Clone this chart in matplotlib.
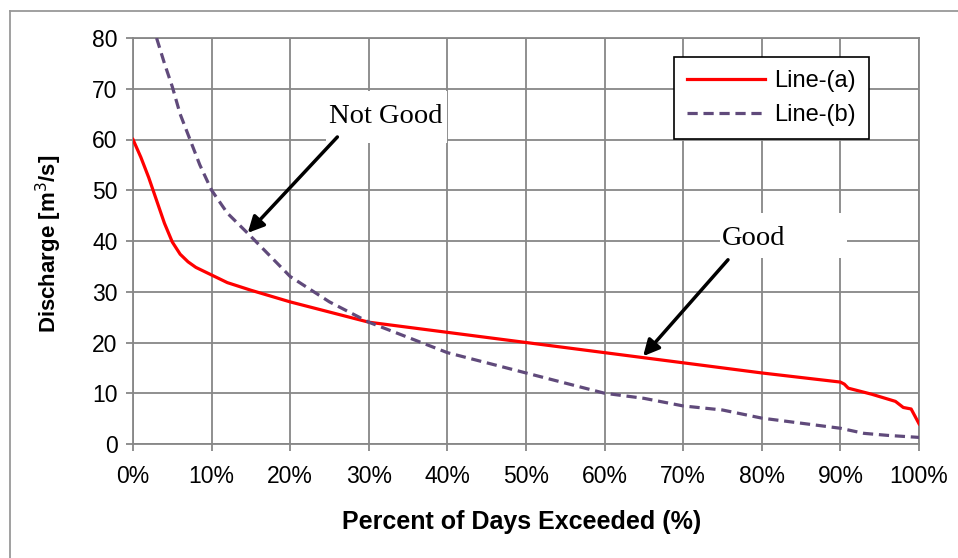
import matplotlib.pyplot as plt
from matplotlib.lines import Line2D
from matplotlib.patches import Rectangle
from matplotlib.ticker import PercentFormatter

# Flow duration curves: percent of days exceeded vs discharge
pct_a = [0, 1, 2, 3, 4, 5, 6, 7, 8, 10, 12, 15, 20, 25, 30, 35, 40, 45, 50,
         60, 70, 80, 90, 90.5, 91, 94, 97, 98, 99, 100]
flow_a = [60, 56.5, 52.5, 48, 43.5, 39.8, 37.4, 35.9, 34.8, 33.3, 31.8, 30.3, 28, 26,
          24, 23, 22, 21, 20, 18, 16, 14, 12.2, 11.8, 11.0, 9.8, 8.4, 7.2, 6.9, 4]

pct_b = [3, 4, 5, 6, 7.25, 8.5, 10, 12, 15, 20, 25, 30, 35, 40, 45, 50, 55,
         60, 65, 70, 75, 80, 85, 90, 93, 96, 100]
flow_b = [80, 75, 70.4, 65, 60, 55, 50, 45.5, 40.9, 33, 28, 24, 21, 18, 16,
          14, 12, 10, 9, 7.5, 6.7, 5.1, 4.1, 3.1, 2.1, 1.7, 1.3]

x_ticks = [0, 10, 20, 30, 40, 50, 60, 70, 80, 90, 100]
y_ticks = [0, 10, 20, 30, 40, 50, 60, 70, 80]

plt.rcParams['font.family'] = ['Liberation Sans', 'DejaVu Sans']

fig = plt.figure(figsize=(9.58, 5.58), dpi=100)
ax = fig.add_axes([133 / 958, 1 - 444 / 558, 786 / 958, 406 / 558])

grid_color = '#878787'
ax.plot(pct_a, flow_a, color='#FF0000', lw=2.3, label='Line-(a)', zorder=4)
ax.plot(pct_b, flow_b, color='#604A7B', lw=2.3, dashes=(3.2, 1.8),
        label='Line-(b)', zorder=4)

ax.set_xlim(0, 100)
ax.set_ylim(0, 80)
ax.set_xticks(x_ticks)
ax.set_yticks(y_ticks)
ax.xaxis.set_major_formatter(PercentFormatter(decimals=0))
ax.grid(True, color=grid_color, lw=1.3, zorder=0)
ax.set_axisbelow(True)
for s in ax.spines.values():
    s.set_color(grid_color)
    s.set_linewidth(1.3)
ax.tick_params(axis='both', colors=grid_color, length=5, width=1.3,
               labelcolor='black', labelsize=16.5)
ax.tick_params(axis='x', pad=10)
ax.tick_params(axis='y', pad=6)

ax.set_xlabel('Percent of Days Exceeded (%)', fontsize=18, fontweight='bold',
              va='center')
ax.set_ylabel('Discharge [m$^3$/s]', fontsize=16, fontweight='bold',
              va='center')
ax.xaxis.set_label_coords(0.494, -0.192)
ax.yaxis.set_label_coords(-0.107, 0.493)

# white boxes behind the callout texts
ax.add_patch(Rectangle((24.5, 59.3), 15.5, 10.3, facecolor='white',
                       edgecolor='none', zorder=2))
ax.add_patch(Rectangle((74.7, 36.6), 16.1, 8.9, facecolor='white',
                       edgecolor='none', zorder=2))
ax.text(32.1, 64.5, 'Not Good', family='Liberation Serif', fontsize=20.5,
        ha='center', va='center', zorder=3)
ax.text(79.0, 40.4, 'Good', family='Liberation Serif', fontsize=20.5,
        ha='center', va='center', zorder=3)

arrow = dict(arrowstyle='-|>', color='black', lw=2.5, mutation_scale=24,
             shrinkA=0, shrinkB=0)
ax.annotate('', xy=(14.6, 41.6), xytext=(26.0, 60.5), arrowprops=arrow,
            zorder=5)
ax.annotate('', xy=(64.9, 17.3), xytext=(75.7, 36.3), arrowprops=arrow,
            zorder=5)

leg = ax.legend(loc='upper right', bbox_to_anchor=(869 / 958, 1 - 57 / 558),
                bbox_transform=fig.transFigure, fontsize=17, fancybox=False,
                framealpha=1, edgecolor='black', handlelength=3.3,
                borderpad=0.55, labelspacing=0.5, handletextpad=0.4,
                borderaxespad=0)
leg.get_frame().set_linewidth(1.2)
leg.set_zorder(6)

# outer chart border
frame = dict(color='#999999', lw=1.3, transform=fig.transFigure)
fig.add_artist(Line2D([10 / 958, 10 / 958], [0, 1 - 11 / 558], **frame))
fig.add_artist(Line2D([10 / 958, 1], [1 - 11 / 558, 1 - 11 / 558], **frame))

fig.savefig('out.png', dpi=100)
